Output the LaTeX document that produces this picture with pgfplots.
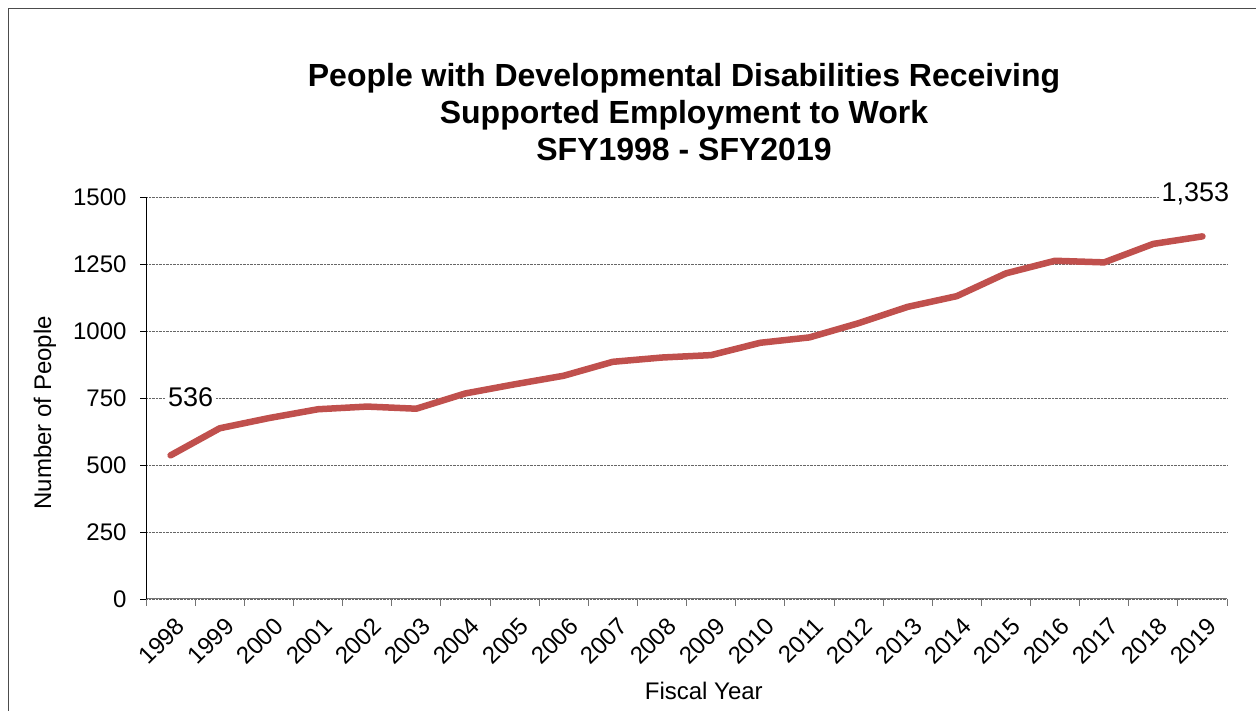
\documentclass[border=0pt]{standalone}
\usepackage{fontspec}
\setmainfont{Liberation Sans}
\usepackage{pgfplots}
\pgfplotsset{compat=1.18}
\definecolor{linered}{HTML}{C0504D}

\pgfplotstableread{
x y
0 536
1 637
2 675
3 708
4 718
5 710
6 767
7 801
8 833
9 885
10 901
11 910
12 956
13 976
14 1029
15 1090
16 1130
17 1215
18 1262
19 1256
20 1325
21 1353
}\people

\begin{document}
\begin{tikzpicture}[x=1pt,y=1pt]
\useasboundingbox (0,0) rectangle (1256,711);
\clip (0,0) rectangle (1256,711);
\draw[draw=black!70, line width=1pt] (8,702) rectangle (1300,-40);
\node[font=\fontsize{32}{37}\selectfont\bfseries, align=center] at (684,599)
  {People with Developmental Disabilities Receiving\\Supported Employment to Work\\SFY1998 - SFY2019};
\coordinate (origin) at (146,112);
\begin{axis}[
  at={(origin)}, anchor=south west,
  scale only axis, width=1081pt, height=402pt,
  xmin=-0.5, xmax=21.5, ymin=0, ymax=1500,
  axis x line*=bottom, axis y line*=left,
  x axis line style={draw=black!55, line width=1pt, -},
  y axis line style={draw=black, line width=0.8pt, -},
  tick align=outside,
  xtick={0,...,21},
  xticklabels={1998,1999,2000,2001,2002,2003,2004,2005,2006,2007,2008,2009,2010,2011,2012,2013,2014,2015,2016,2017,2018,2019},
  minor xtick={-0.5,0.5,...,21.5},
  major x tick style={draw=none},
  minor x tick style={draw=black!55, line width=0.8pt},
  minor tick length=7pt,
  ytick={0,250,...,1500},
  major tick length=6pt,
  y tick style={draw=black, line width=0.6pt},
  ymajorgrids,
  major grid style={densely dotted, draw=black!60, line width=0.8pt},
  xticklabel style={font=\fontsize{24}{24}\selectfont, xshift=4pt, yshift=-11pt, rotate=45, anchor=north east, inner sep=0pt},
  yticklabel style={font=\fontsize{24}{24}\selectfont, xshift=-10pt},
  /pgf/number format/assume math mode=true,
  yticklabel={\pgfmathprintnumber[fixed,1000 sep={}]{\tick}},
  xlabel={Fiscal Year},
  ylabel={Number of People},
  xlabel style={font=\fontsize{24}{24}\selectfont, at={(axis description cs:0.516,-0.229)}, anchor=center},
  ylabel style={font=\fontsize{24}{24}\selectfont, at={(axis description cs:-0.0934,0.463)}, anchor=center},
  clip=false,
]
\addplot[linered, line width=6.5pt, line cap=round, line join=round] table[x=x,y=y] {\people};
\node[fill=white, inner sep=3pt, font=\fontsize{27}{27}\selectfont] at (axis cs:0,536) [xshift=20pt, yshift=58pt] {536};
\node[fill=white, inner sep=3pt, font=\fontsize{27}{27}\selectfont] at (axis cs:21,1353) [xshift=-7pt, yshift=43pt] {1,353};
\end{axis}
\end{tikzpicture}
\end{document}
